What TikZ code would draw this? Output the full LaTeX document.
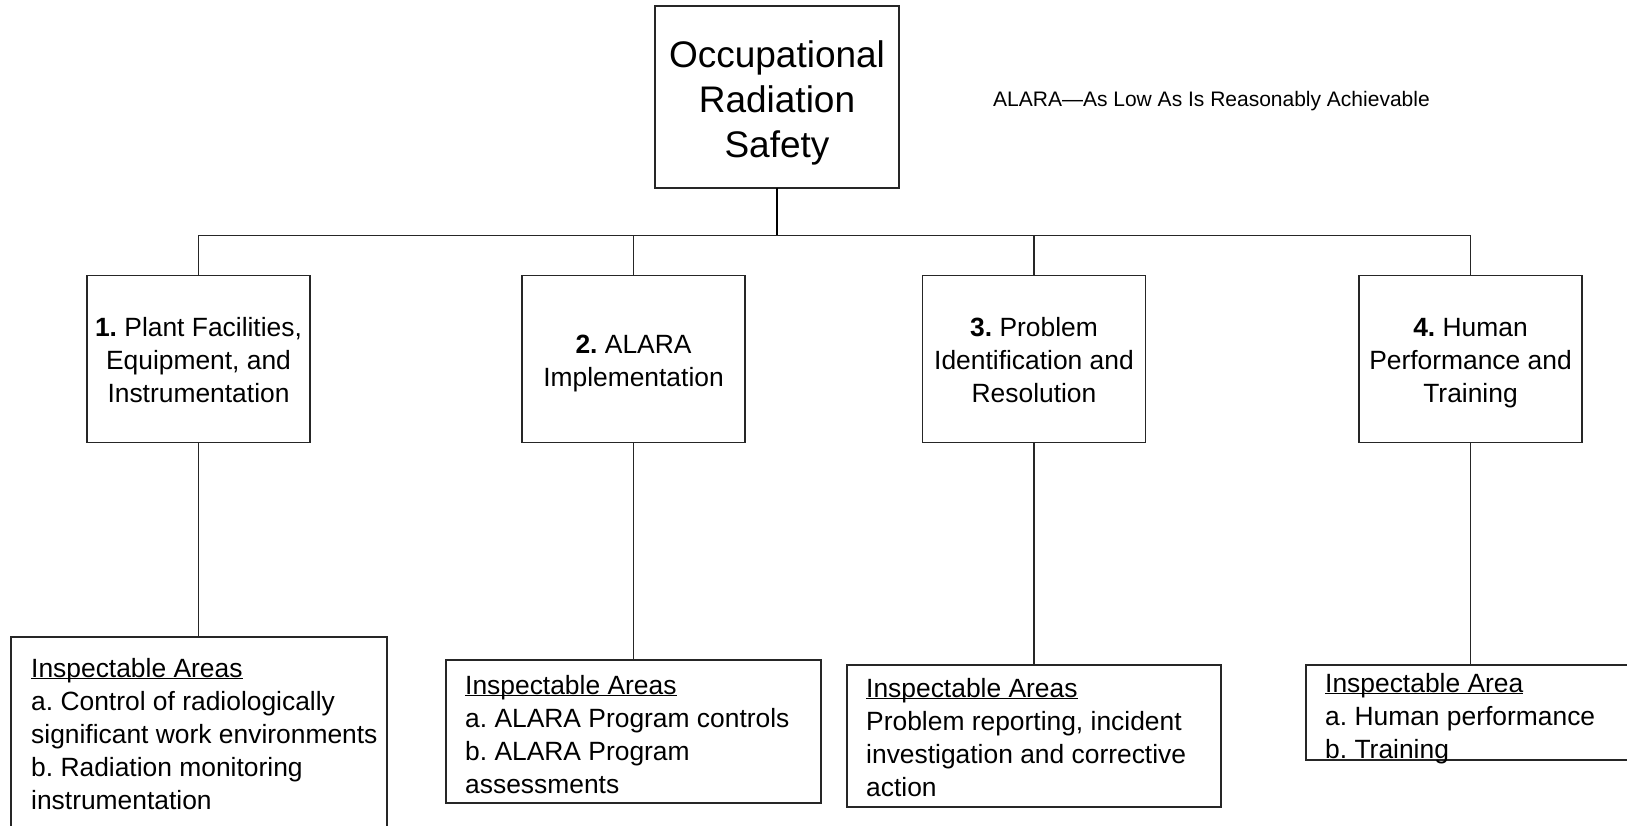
\documentclass[tikz,border=0pt]{standalone}
\usepackage{fontspec}
\setmainfont{Liberation Sans}
\newcommand\headline[1]{\underline{\smash{#1}}}
\begin{document}
\frenchspacing
\begin{tikzpicture}[x=1pt,y=-1pt,
  frame/.style={draw=black!85, line width=1.2pt, inner sep=0pt, outer sep=0pt, rectangle},
  topbox/.style={frame, minimum width=244pt, minimum height=182pt},
  areabox/.style={frame, minimum width=223pt, minimum height=167pt},
  toptext/.style={inner sep=0pt, font=\fontsize{37}{45}\selectfont},
  areatext/.style={inner sep=0pt, font=\fontsize{26.4}{33}\selectfont},
  listbox/.style={frame},
  listtext/.style={anchor=base west, inner sep=0pt, font=\fontsize{26.4}{33}\selectfont},
  link/.style={draw=black!85, line width=1.2pt},
  stem/.style={draw=black, line width=1.8pt}]
  \useasboundingbox (0,0) rectangle (1627,826);
  \fill[white] (0,0) rectangle (1627,826);
  \clip (0,0) rectangle (1627,826);

  % top of the hierarchy
  \node[topbox] (top) at (777,97) {};
  \node[toptext] (toplabel) at ([yshift=-7pt]top.center)
    {\begin{tabular}{@{}c@{}}Occupational\\Radiation\\Safety\end{tabular}};
  \node[anchor=base west, inner sep=0pt, font=\fontsize{21}{25}\selectfont] (note) at (993,107)
    {ALARA—As Low As Is Reasonably Achievable};
  \coordinate (bus) at (777,235.5);

  % four inspection areas
  \node[areabox] (p1) at (198.5,359) {};
  \node[areabox] (p2) at (633.5,359) {};
  \node[areabox] (p3) at (1034,359) {};
  \node[areabox] (p4) at (1470.5,359) {};
  \node[areatext] (p1label) at ([yshift=-4pt]p1.center)
    {\begin{tabular}{@{}c@{}}\textbf{1.} Plant Facilities,\\Equipment, and\\Instrumentation\end{tabular}};
  \node[areatext] (p2label) at ([yshift=-4pt]p2.center)
    {\begin{tabular}{@{}c@{}}\textbf{2.} ALARA\\Implementation\end{tabular}};
  \node[areatext] (p3label) at ([yshift=-4pt]p3.center)
    {\begin{tabular}{@{}c@{}}\textbf{3.} Problem\\Identification and\\Resolution\end{tabular}};
  \node[areatext] (p4label) at ([yshift=-4pt]p4.center)
    {\begin{tabular}{@{}c@{}}\textbf{4.} Human\\Performance and\\Training\end{tabular}};

  % inspectable-area boxes
  \node[listbox, minimum width=376pt, minimum height=213pt] (a1) at (199,743.5) {};
  \node[listbox, minimum width=375pt, minimum height=143pt] (a2) at (633.5,731.5) {};
  \node[listbox, minimum width=374pt, minimum height=142pt] (a3) at (1034,736) {};
  \node[listbox, minimum width=334pt, minimum height=95pt] (a4) at (1473,712.5) {};

  \node[listtext] (t1) at (31,677)
    {\begin{tabular}[t]{@{}l@{}}\headline{Inspectable Areas}\\a. Control of radiologically\\significant work environments\\b. Radiation monitoring\\instrumentation\end{tabular}};
  \node[listtext] (t2) at (465,694)
    {\begin{tabular}[t]{@{}l@{}}\headline{Inspectable Areas}\\a. ALARA Program controls\\b. ALARA Program\\assessments\end{tabular}};
  \node[listtext] (t3) at (866,697)
    {\begin{tabular}[t]{@{}l@{}}\headline{Inspectable Areas}\\Problem reporting, incident\\investigation and corrective\\action\end{tabular}};
  \node[listtext] (t4) at (1325,692)
    {\begin{tabular}[t]{@{}l@{}}\headline{Inspectable Area}\\a. Human performance\\b. Training\end{tabular}};

  % connectors
  \draw[stem] (top.south) -- (bus);
  \draw[link] (p1.north) -- (p1.north |- bus) -- (p4.north |- bus) -- (p4.north);
  \draw[link] (p2.north) -- (p2.north |- bus);
  \draw[link] (p3.north) -- (p3.north |- bus);
  \draw[link] (p1.south) -- (p1.south |- a1.north);
  \draw[link] (p2.south) -- (p2.south |- a2.north);
  \draw[link] (p3.south) -- (p3.south |- a3.north);
  \draw[link] (p4.south) -- (p4.south |- a4.north);
\end{tikzpicture}
\end{document}
